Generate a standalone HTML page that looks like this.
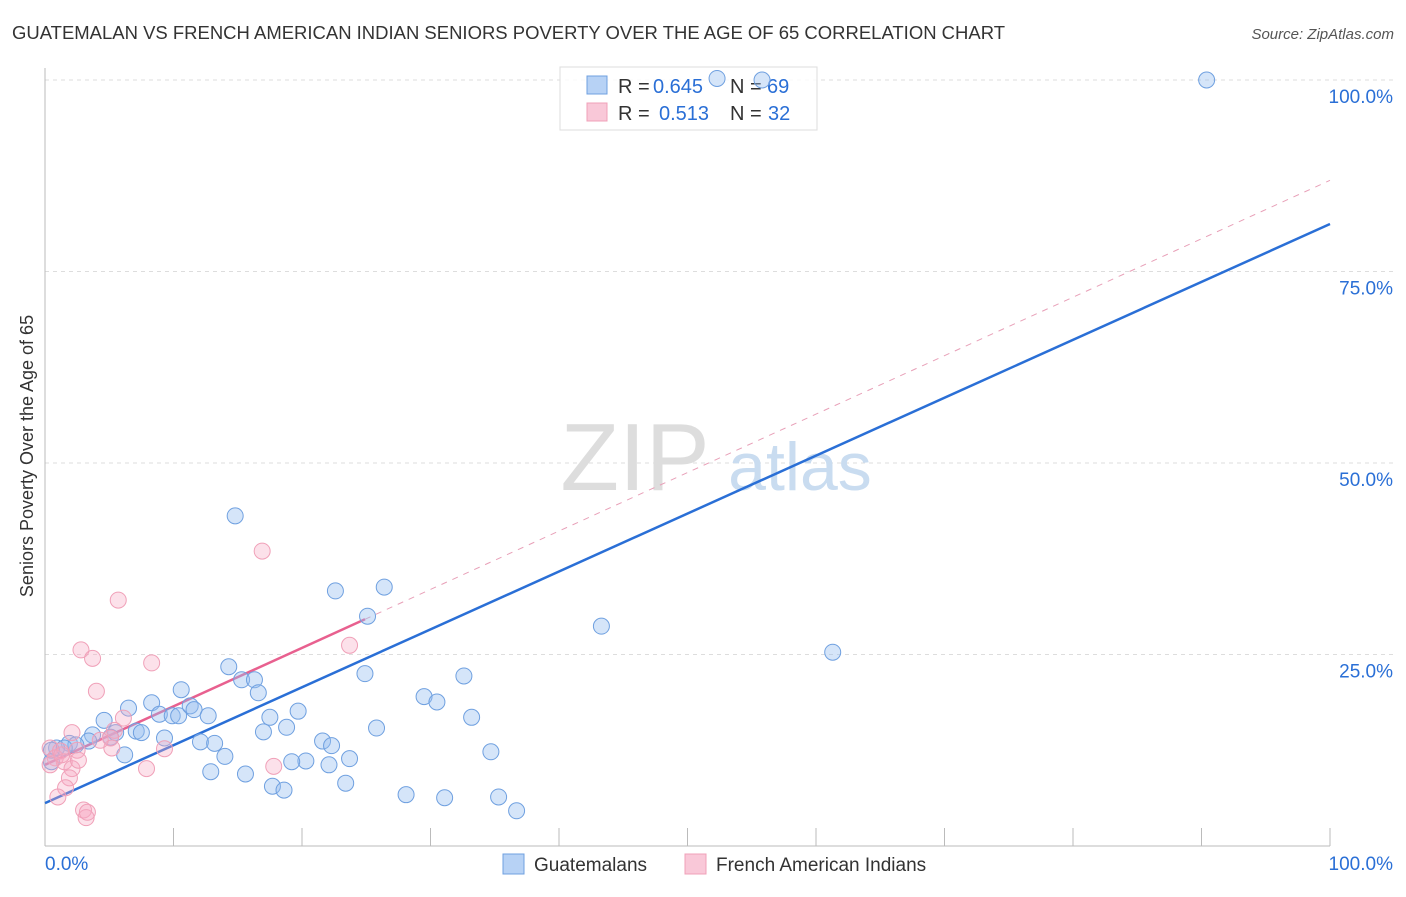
<!DOCTYPE html>
<html><head><meta charset="utf-8"><style>
body{margin:0;background:#fff;font-family:"Liberation Sans",sans-serif}
svg text{font-family:"Liberation Sans",sans-serif}
</style></head><body>
<svg id="chart" width="1406" height="892" xmlns="http://www.w3.org/2000/svg">
<text x="12" y="39" font-size="18" fill="#333" textLength="993" lengthAdjust="spacingAndGlyphs">GUATEMALAN VS FRENCH AMERICAN INDIAN SENIORS POVERTY OVER THE AGE OF 65 CORRELATION CHART</text>
<text x="1394" y="39" font-size="15" fill="#555" text-anchor="end" font-style="italic">Source: ZipAtlas.com</text>
<text transform="translate(33,456) rotate(-90)" font-size="18" fill="#333" text-anchor="middle">Seniors Poverty Over the Age of 65</text>
<g id="grid"></g>
<g><text x="635" y="490" font-size="96" fill="#ddd" font-family="Liberation Serif" text-anchor="middle">ZIP</text><text x="800" y="490" font-size="68" fill="#c9dcf0" text-anchor="middle">atlas</text></g>
<g id="lines"></g>
<g>
<rect x="560" y="67" width="257" height="63" fill="rgba(255,255,255,0.85)" stroke="#ddd"/>
<rect x="587" y="76" width="20" height="18" fill="#b7d2f5" stroke="#6fa0e0"/>
<text x="618" y="93" font-size="20" fill="#333">R =</text>
<text x="653" y="93" font-size="20" fill="#2a6fd6">0.645</text>
<text x="730" y="93" font-size="20" fill="#333">N =</text>
<text x="767" y="93" font-size="20" fill="#2a6fd6">69</text>
<rect x="587" y="103" width="20" height="18" fill="#f9c8d8" stroke="#f0a0b8"/>
<text x="618" y="120" font-size="20" fill="#333">R =</text>
<text x="659" y="120" font-size="20" fill="#2a6fd6">0.513</text>
<text x="730" y="120" font-size="20" fill="#333">N =</text>
<text x="768" y="120" font-size="20" fill="#2a6fd6">32</text>
</g>
<g id="points"></g>
<g>
<rect x="503" y="854" width="21" height="20" fill="#b7d2f5" stroke="#6fa0e0"/>
<text x="534" y="871" font-size="19" fill="#333">Guatemalans</text>
<rect x="685" y="854" width="21" height="20" fill="#f9c8d8" stroke="#f0a0b8"/>
<text x="716" y="871" font-size="19" fill="#333">French American Indians</text>
</g>
</svg>
<script>
const yTicks=[25,50,75,100];
const yTickLabels=["25.0%","50.0%","75.0%","100.0%"];
const xTicks=[0,10,20,30,40,50,60,70,80,90,100];
const blueX=[90.4,52.3,55.8,14.8,22.6,26.4,25.1,43.3,61.3,14.3,15.3,16.3,16.6,10.6,8.3,6.5,8.9,9.9,10.4,11.3,11.6,12.7,4.6,7.1,7.5,3.7,5.5,5.1,1.9,3.4,2.4,0.9,0.5,1.5,9.3,12.1,13.2,14.0,6.2,17.5,17.0,18.8,19.7,24.9,29.5,30.5,32.6,33.2,25.8,21.6,22.3,23.7,20.3,19.2,22.1,12.9,15.6,17.7,18.6,23.4,28.1,31.1,35.3,36.7,34.7,0.5];
const blueY=[100,100.2,100,43.1,33.3,33.8,30.0,28.7,25.3,23.4,21.7,21.7,20.0,20.4,18.7,18.0,17.2,17.0,17.0,18.3,17.8,17.0,16.4,15.0,14.8,14.5,14.8,14.2,13.4,13.7,13.2,12.8,12.5,12.8,14.1,13.6,13.4,11.7,11.9,16.8,14.9,15.5,17.6,22.5,19.5,18.8,22.2,16.8,15.4,13.7,13.1,11.4,11.1,11.0,10.6,9.7,9.4,7.8,7.3,8.2,6.7,6.3,6.4,4.6,12.3,11.0];
const pinkX=[16.9,5.7,2.8,3.7,8.3,23.7,4.0,6.1,5.4,2.1,5.1,9.3,0.4,1.2,2.5,0.8,1.5,0.4,2.1,7.9,17.8,1.9,1.6,1.0,3.0,3.2,3.3,2.6,1.3,5.2,4.3];
const pinkY=[38.5,32.1,25.6,24.5,23.9,26.2,20.2,16.7,15.1,14.8,14.1,12.7,12.8,12.4,12.5,11.5,11.0,10.6,10.1,10.1,10.4,8.9,7.6,6.4,4.7,3.7,4.4,11.2,11.9,12.8,13.8];
const blueTrend=[5.6,81.2];
const pinkTrend=[10.6,86.9];
const pinkSolidEnd=24.9;
const NS="http://www.w3.org/2000/svg";
const sx=v=>45+v*12.85, sy=v=>846-v*7.66;
function mk(tag,attrs,parent){const e=document.createElementNS(NS,tag);for(const k in attrs)e.setAttribute(k,attrs[k]);document.getElementById(parent).appendChild(e);return e;}
yTicks.forEach((t,i)=>{
 const l=mk('line',{x1:45,x2:1395,y1:sy(t),y2:sy(t),stroke:'#ddd','stroke-dasharray':'4,4'},'grid');
 
 
 const tx=mk('text',{x:1393,y:sy(t)+23,'font-size':19,fill:'#2a6fd6','text-anchor':'end'},'grid');tx.textContent=yTickLabels[i];
 
 
});
mk('line',{x1:45,x2:45,y1:68,y2:846,stroke:'#bbb'},'grid');
mk('line',{x1:45,x2:1330,y1:846,y2:846,stroke:'#bbb'},'grid');
xTicks.forEach(t=>{const l=mk('line',{x1:sx(t),x2:sx(t),y1:828,y2:846,stroke:'#bbb'},'grid');
 
 });
let a=mk('text',{x:45,y:870,'font-size':19,fill:'#2a6fd6'},'grid');a.textContent='0.0%';


a=mk('text',{x:1393,y:870,'font-size':19,fill:'#2a6fd6','text-anchor':'end'},'grid');a.textContent='100.0%';


const pinkAt=x=>pinkTrend[0]+(pinkTrend[1]-pinkTrend[0])*x/100;
let d=mk('line',{x1:sx(pinkSolidEnd),y1:sy(pinkAt(pinkSolidEnd)),x2:sx(100),y2:sy(pinkTrend[1]),stroke:'#e8a0b8','stroke-dasharray':'6,6','stroke-width':1},'lines');


d=mk('line',{x1:sx(0),y1:sy(blueTrend[0]),x2:sx(100),y2:sy(blueTrend[1]),stroke:'#2a6fd6','stroke-width':2.5},'lines');


d=mk('line',{x1:sx(0),y1:sy(pinkTrend[0]),x2:sx(pinkSolidEnd),y2:sy(pinkAt(pinkSolidEnd)),stroke:'#e8608f','stroke-width':2.5},'lines');


blueX.forEach((x,i)=>{const c=mk('circle',{cx:sx(x),cy:sy(blueY[i]),r:8,fill:'rgba(150,190,240,0.4)',stroke:'#6fa0e0','stroke-width':1},'points');
 
 });
pinkX.forEach((x,i)=>{const c=mk('circle',{cx:sx(x),cy:sy(pinkY[i]),r:8,fill:'rgba(245,170,195,0.35)',stroke:'#f0a0b8','stroke-width':1},'points');
 
 });
</script>
</body></html>
